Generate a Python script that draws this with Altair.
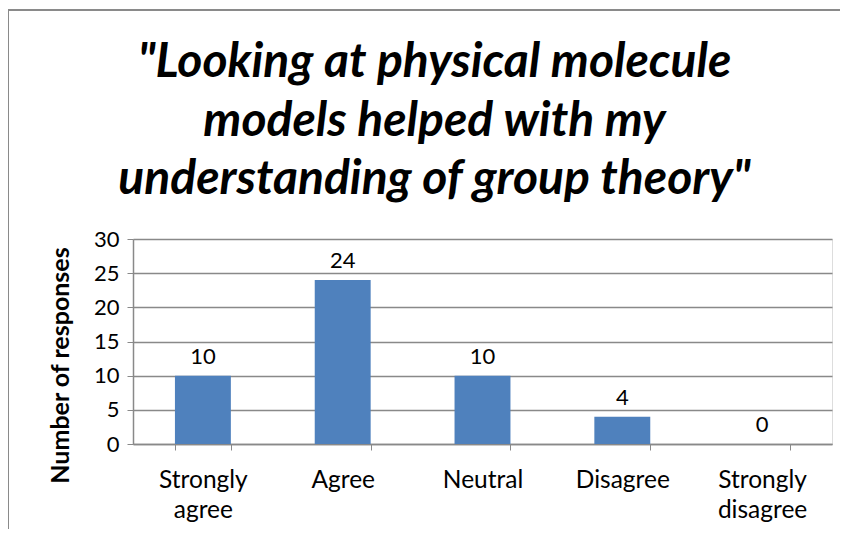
import altair as alt
import pandas as pd

categories = ["Strongly agree", "Agree", "Neutral", "Disagree", "Strongly disagree"]
responses = [10, 24, 10, 4, 0]
title_lines = ['"Looking at physical molecule', 'models helped with my', 'understanding of group theory"']
y_ticks = [0, 5, 10, 15, 20, 25, 30]

df = pd.DataFrame({"category": categories, "responses": responses})

FONT = "Lato"
GRID = "#898989"

x_enc = alt.X(
    "category:N",
    sort=categories,
    scale=alt.Scale(paddingInner=0.6, paddingOuter=0.3),
    axis=alt.Axis(
        title=None,
        labelAngle=0,
        labelExpr="split(datum.label, ' ')",
        labelFont=FONT,
        labelFontSize=24.5,
        labelColor="#000000",
        labelLineHeight=30,
        labelPadding=18,
        labelBaseline="top",
        tickBand="extent",
        tickSize=6,
        tickColor=GRID,
        domainColor=GRID,
        domainWidth=1.5,
        grid=False,
    ),
)

y_enc = alt.Y(
    "responses:Q",
    scale=alt.Scale(domain=[0, 30], nice=False),
    axis=alt.Axis(
        title="Number of responses",
        titleFont=FONT,
        titleFontSize=25,
        titleFontWeight="bold",
        titleColor="#000000",
        titleX=-73,
        titleY=126,
        titleAngle=270,
        titleBaseline="middle",
        values=y_ticks,
        tickCount=20,
        labelOverlap=False,
        labelFont=FONT,
        labelFontSize=22,
        labelColor="#000000",
        labelPadding=8,
        tickSize=6,
        tickColor=GRID,
        domainColor=GRID,
        domainWidth=1.5,
        gridColor=GRID,
        gridWidth=1.5,
    ),
)

bars = alt.Chart(df).mark_bar(color="#4F81BD").encode(x=x_enc, y=y_enc)

labels = alt.Chart(df).mark_text(
    baseline="bottom", dy=-7, font=FONT, fontSize=22, color="#000000"
).encode(x=x_enc, y=y_enc, text="responses:Q")

frame_left = alt.Chart(df).mark_rule(color="#8a8a8a", strokeWidth=1.5).encode(
    x=alt.value(-125), y=alt.value(-229), y2=alt.value(420)
)
frame_top = alt.Chart(df).mark_rule(color="#8a8a8a", strokeWidth=1.5).encode(
    x=alt.value(-125), x2=alt.value(900), y=alt.value(-229)
)

chart = (
    alt.layer(bars, labels, frame_left, frame_top)
    .properties(
        width=699,
        height=205,
        padding={"left": 125, "top": 231, "right": 8, "bottom": 85},
        autosize=alt.AutoSizeParams(type="none"),
        title=alt.Title(
            text=title_lines,
            font=FONT,
            fontSize=48,
            fontStyle="italic",
            fontWeight="bold",
            color="#000000",
            lineHeight=58.5,
            anchor="middle",
            baseline="top",
            dx=-48,
            dy=195,
            offset=0,
        ),
    )
    .configure_view(stroke=None)
    .configure(background="#ffffff")
)

chart.save("out.html", embed_options={"renderer": "svg", "actions": False})
